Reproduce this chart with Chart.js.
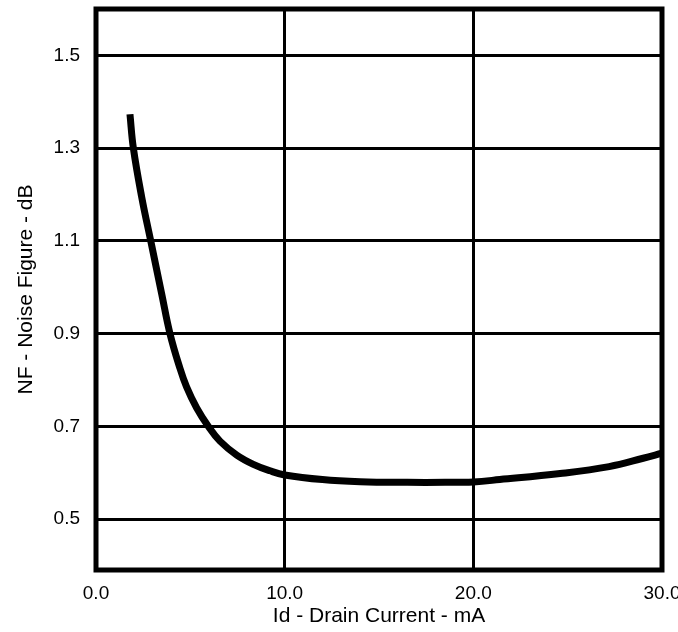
<!DOCTYPE html>
<html lang="en">
<head>
  <meta charset="UTF-8">
  <title>Noise Figure vs Drain Current</title>
  <script src="https://cdn.jsdelivr.net/npm/chart.js"></script>
  <style>
    html, body { margin: 0; padding: 0; background: #fff; }
    #wrap { width: 678px; height: 632px; position: relative; }
  </style>
</head>
<body>
  <div id="wrap">
    <canvas id="nfChart"></canvas>
  </div>
  <script>
    // values
    const drainCurrent = [1.8, 1.98, 2.42, 2.9, 3.48, 3.92, 4.45, 4.8, 5.33, 5.95, 6.57, 7.46, 8.34, 9.22, 10.0, 12.0, 14.0, 16.5, 18.5, 20.0, 21.4, 24.6, 27.2, 29.0, 30.0];
    const noiseFigure  = [1.373, 1.30, 1.195, 1.10, 0.986, 0.90, 0.825, 0.785, 0.740, 0.700, 0.668, 0.638, 0.618, 0.604, 0.595, 0.585, 0.5805, 0.579, 0.579, 0.580, 0.585, 0.598, 0.613, 0.631, 0.642];

    const xTicks = [0, 10, 20, 30];
    const yTicks = [0.5, 0.7, 0.9, 1.1, 1.3, 1.5];

    const FONT = '"Liberation Sans", Arial, Helvetica, sans-serif';

    // heavy frame round the plot area
    const framePlugin = {
      id: 'frame',
      afterDatasetsDraw(chart) {
        const { ctx, chartArea: a } = chart;
        ctx.save();
        ctx.strokeStyle = '#000';
        ctx.lineWidth = 5;
        ctx.strokeRect(a.left, a.top, a.right - a.left, a.bottom - a.top);
        ctx.restore();
      }
    };

    const ctx = document.getElementById('nfChart').getContext('2d');
    const nfChart = new Chart(ctx, {
      type: 'line',
      data: {
        datasets: [{
          label: 'NF',
          data: drainCurrent.map((x, i) => ({ x: x, y: noiseFigure[i] })),
          borderColor: '#000',
          borderWidth: 7,
          pointRadius: 0,
          fill: false,
          tension: 0.4
        }]
      },
      options: {
        responsive: true,
        maintainAspectRatio: false,
        animation: false,
        layout: { padding: { top: 9, right: 16, left: 0, bottom: 0 } },
        plugins: { legend: { display: false }, tooltip: { enabled: false } },
        scales: {
          x: {
            type: 'linear',
            min: 0, max: 30,
            afterBuildTicks: s => { s.ticks = xTicks.map(v => ({ value: v })); },
            afterFit: s => { s.height = 62; s.paddingLeft = 0; s.paddingRight = 0; },
            grid: { color: '#000', lineWidth: 3, drawTicks: false },
            border: { display: false },
            ticks: {
              color: '#000', padding: 12, maxRotation: 0,
              font: { family: FONT, size: 19 },
              callback: v => v.toFixed(1)
            },
            title: {
              display: true, text: 'Id - Drain Current - mA', color: '#000',
              font: { family: FONT, size: 21 }, padding: { top: 0, bottom: 3 }
            }
          },
          y: {
            type: 'linear',
            min: 0.39, max: 1.6,
            afterBuildTicks: s => { s.ticks = yTicks.map(v => ({ value: v })); },
            afterFit: s => { s.width = 96; s.paddingTop = 0; s.paddingBottom = 0; },
            grid: { color: '#000', lineWidth: 3, drawTicks: false },
            border: { display: false },
            ticks: {
              color: '#000', padding: 16,
              font: { family: FONT, size: 19 },
              callback: v => v.toFixed(1)
            },
            title: {
              display: true, text: 'NF - Noise Figure - dB', color: '#000',
              font: { family: FONT, size: 21 }, padding: { top: 14, bottom: 0 }
            }
          }
        }
      },
      plugins: [framePlugin]
    });
  </script>
</body>
</html>
